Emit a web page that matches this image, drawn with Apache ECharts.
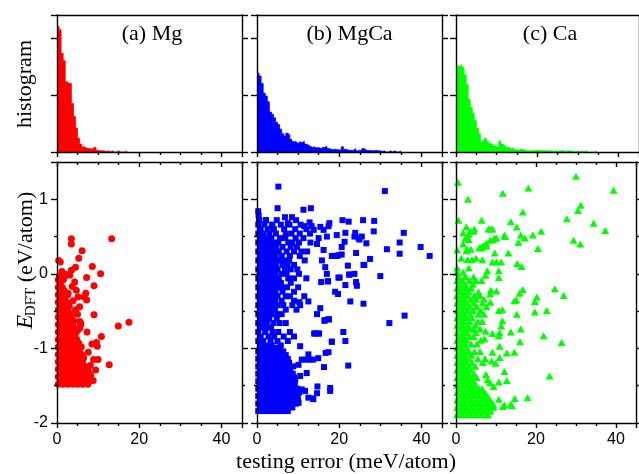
<!DOCTYPE html>
<html><head><meta charset="utf-8">
<script src="https://cdn.jsdelivr.net/npm/echarts@6/dist/echarts.min.js"></script>
<style>html,body{margin:0;padding:0;background:#fff}#c{width:639px;height:474px}</style>
</head><body><div id="c"></div>
<script>
// ---------------- DATA ----------------
const panelTitles = ['(a) Mg', '(b) MgCa', '(c) Ca'];
const xTitle = 'testing error (meV/atom)';
const histTitle = 'histogram';
const xTickLabels = [0, 20, 40];
const yTickLabels = [-2, -1, 0, 1];
const binWidth = 0.5; // meV

// histogram counts, one per 0.5 meV bin starting at 0
const mgCounts = [220,214,173,160,123,120,120,85,62,42,24,14,9,8,6,6,5,8,8,3,2,2,2,1,2,0,2,0,0,2,0,0,0,2];
const mgcaCounts = [138,133,120,103,98,88,70,66,60,52,48,40,32,28,33,30,22,18,18,15,18,16,19,14,12,10,8,9,7,8,6,8,8,10,6,5,4,5,4,4,3,9,5,4,3,3,3,6,2,3,2,6,4,2,3,2,2,3,2,2,1,2,0,0,2,0,2,0,0,2];
const caCounts = [151,150,153,148,135,118,92,78,68,55,42,32,16,20,24,19,15,13,11,9,8,19,14,11,8,8,6,7,4,4,3,5,5,3,2,2,2,2,3,3,3,3,2,3,2,2,2,1,2,1,2,2,2,1,2,2,1,1,0,2,0,2,0,2,0,0,0,0,2];

// scatter: [testing error (meV/atom), E_DFT (eV/atom)]
// dense bands are written as [E_DFT, err1, err2, ...]
const mgRows = [
 [-1.48,0.3,1.5,2.7,3.9,5.1,6.3,7.5],
 [-1.43,0.9,2.1,3.3,4.5,5.7,6.9,8.1,8.8],
 [-1.38,0.3,1.5,2.7,3.9,5.1,6.3,7.3],
 [-1.33,0.9,2.1,3.3,4.5,5.7,6.9,7.6],
 [-1.28,0.3,1.5,2.7,3.9,5.1,6.3,7.0],
 [-1.23,0.9,2.1,3.3,4.5,5.7,6.6],
 [-1.18,0.3,1.5,2.7,3.9,5.1,6.2],
 [-1.13,0.9,2.1,3.3,4.5,5.7,6.5],
 [-1.08,0.3,1.5,2.7,3.9,5.1,6.0],
 [-1.03,0.9,2.1,3.3,4.5,5.4],
 [-0.98,0.3,1.5,2.7,3.9,5.0,5.9],
 [-0.93,0.9,2.1,3.3,4.5,5.3],
 [-0.88,0.3,1.5,2.7,3.9,4.8],
 [-0.83,0.9,2.1,3.3,4.4],
 [-0.78,0.3,1.5,2.7,3.9,4.7],
 [-0.73,0.9,2.1,3.3,4.2],
 [-0.68,0.3,1.5,2.7,3.8],
 [-0.63,0.9,2.1,3.3,4.0],
 [-0.58,0.3,1.5,2.7,3.5],
 [-0.53,0.9,2.1,3.2],
 [-0.48,0.3,1.5,2.6],
 [-0.43,0.9,2.0,3.0],
 [-0.38,0.3,1.4,2.4],
 [-0.33,0.9,1.9],
 [-0.28,0.3,1.4,2.6],
 [-0.23,0.8,1.8],
 [-0.18,0.3,1.3],
 [-0.13,0.8],
 [-0.08,0.3,1.5],
 [-0.03,0.6]
];
const mgPoints = [
 [3.5,0.47],[3.5,0.40],[13.3,0.47],[6.1,0.31],[5.3,0.21],[0.4,0.18],[0.8,0.16],[4.5,0.09],[8.6,0.10],
 [10.6,0.0],[3.5,0.05],[7.2,-0.05],[9.0,-0.16],[7.0,-0.26],[7.2,-0.35],[6.6,-0.31],[9.0,-0.55],
 [14.9,-0.70],[17.5,-0.65],[5.5,-0.64],[5.8,-0.66],[7.3,-0.78],[10.8,-0.84],[5.5,-0.73],[8.5,-0.94],
 [9.6,-0.92],[9.8,-0.97],[7.6,-1.05],[8.9,-1.15],[10.0,-1.15],[12.7,-1.22],[9.4,-1.29],[8.1,-1.23],
 [7.6,-1.31],[8.2,-1.36],
 [1.2,0.03],[2.3,-0.01],[3.1,-0.02],[1.7,-0.06],[4.3,-0.11],[3.7,-0.17],[4.7,-0.22],[2.7,-0.26],
 [5.1,-0.31],[3.9,-0.36],[5.5,-0.44],[4.5,-0.48],[5.0,-0.54],[3.3,-0.57],[5.8,-0.68],[5.1,-0.75]
];

const mgcaRows = [
 [-1.84,0.3,1.5,2.7,3.9,5.1,6.3,7.5],
 [-1.79,0.9,2.1,3.3,4.5,5.7,6.9,8.1,8.6],
 [-1.74,0.3,1.5,2.7,3.9,5.1,6.3,7.5,8.7,9.5],
 [-1.69,0.9,2.1,3.3,4.5,5.7,6.9,8.1,9.3,10.0],
 [-1.64,0.3,1.5,2.7,3.9,5.1,6.3,7.5,8.7,9.9],
 [-1.59,0.9,2.1,3.3,4.5,5.7,6.9,8.1,9.3,10.3],
 [-1.54,0.3,1.5,2.7,3.9,5.1,6.3,7.5,8.7,9.8],
 [-1.49,0.9,2.1,3.3,4.5,5.7,6.9,8.1,9.2],
 [-1.44,0.3,1.5,2.7,3.9,5.1,6.3,7.5,8.7],
 [-1.39,0.9,2.1,3.3,4.5,5.7,6.9,8.1,9.0],
 [-1.34,0.3,1.5,2.7,3.9,5.1,6.3,7.5,8.7],
 [-1.29,0.9,2.1,3.3,4.5,5.7,6.9,8.1],
 [-1.24,0.3,1.5,2.7,3.9,5.1,6.3,7.5,8.8],
 [-1.19,0.9,2.1,3.3,4.5,5.7,6.9,7.8],
 [-1.14,0.3,1.5,2.7,3.9,5.1,6.3,7.5],
 [-1.09,0.9,2.1,3.3,4.5,5.7,7.0],
 [-1.04,0.3,1.5,2.7,3.9,5.1,6.4],
 [-0.99,0.9,2.1,3.3,4.5,5.5],
 [-0.96,0.9,2.2,3.6,5.8],
 [-0.90,0.3,1.5,3.3,5.0,7.5],
 [-0.84,0.9,2.8,4.2,6.5,9.0],
 [-0.78,0.3,2.0,3.8,5.2,8.0],
 [-0.72,0.9,2.2,3.4],
 [-0.66,0.3,1.5,2.4,4.0,5.5,7.0],
 [-0.60,0.9,2.1,3.0,4.8],
 [-0.54,0.3,1.5,2.7,3.6,5.0,6.0],
 [-0.48,0.9,2.1,3.2,4.4,7.0,9.6],
 [-0.42,0.3,1.5,2.7,3.8,5.0,6.4,8.6,10.5],
 [-0.36,0.9,2.1,3.3,4.4,6.0,9.0],
 [-0.30,0.3,1.5,2.7,3.9,5.0,7.0,8.0,11.5],
 [-0.24,0.9,2.1,3.3,4.5,6.2,9.0],
 [-0.18,0.3,1.5,2.7,3.9,4.8,6.0,7.3,10.0],
 [-0.12,0.9,2.1,3.3,4.6,5.8,8.2],
 [-0.06,0.3,1.5,2.7,3.9,5.3,7.6,9.0,12.0],
 [0.00,0.9,2.1,3.3,4.5,6.0,7.2,10.2],
 [0.06,0.3,1.5,2.7,3.9,5.0,6.8,8.2,9.8],
 [0.12,0.9,2.1,3.3,4.6,6.2,7.4,9.0],
 [0.18,0.3,1.5,2.7,3.9,5.2,6.6,7.8,11.6],
 [0.24,0.9,2.1,3.3,4.5,6.0,8.0,10.4],
 [0.30,0.3,1.5,2.7,3.9,5.3,7.2,9.0,10.8,12.2],
 [0.36,0.9,2.1,3.4,4.6,6.2,8.2,9.7],
 [0.42,0.3,1.5,2.8,4.0,5.2,7.6,8.6,10.2,13.0],
 [0.48,0.9,2.2,3.5,5.6,6.9,9.4,11.3],
 [0.54,0.3,1.5,3.0,4.6,7.0,8.4,10.4,12.9],
 [0.60,0.9,2.6,4.1,6.6,9.3,12.0],
 [0.66,0.3,1.8,3.7,5.8,7.9,10.6],
 [0.72,0.5,2.2,4.8,9.5],
 [0.78,0.4],
 [0.84,0.3]
];
const mgcaPoints = [
 [5.2,1.17],[31.1,1.11],[5.0,0.88],[11.3,0.86],[13.1,0.88],[2.1,0.72],[6.8,0.76],[8.5,0.76],[3.7,0.64],
 [7.5,0.68],[12.8,0.69],[17.6,0.68],[20.8,0.72],[22.3,0.70],[25.8,0.72],[28.5,0.71],[17.4,0.64],
 [19.4,0.52],[21.5,0.55],[23.9,0.55],[28.4,0.57],[35.7,0.55],[24.9,0.46],[26.6,0.41],[34.7,0.42],
 [31.6,0.33],[34.7,0.27],[39.8,0.36],[42.0,0.24],[19.4,0.24],[20.6,0.26],[27.5,0.20],[26.1,0.12],
 [22.1,0.11],[23.7,0.0],[22.4,-0.01],[30.0,-0.03],[20.1,-0.05],[17.3,-0.10],[24.1,-0.11],[24.3,-0.16],
 [19.0,-0.24],[19.7,-0.27],[22.7,-0.37],[25.9,-0.40],[35.9,-0.56],[32.2,-0.66],[16.5,-0.62],[17.5,-0.61],
 [15.1,-0.80],[13.9,-0.80],[21.0,-0.78],[21.5,-0.90],[18.2,-0.91],[16.7,-1.06],[17.4,-1.05],[22.2,-1.23],
 [16.3,-1.25],[17.8,-1.53],[17.8,-1.57],[14.7,-1.51],[13.6,-1.67],[12.9,-1.15],[12.0,-1.15],[14.9,-1.13],
 [10.5,-0.97],[13.3,0.64],[11.5,0.64],[13.8,0.59],[15.4,0.63],[16.2,0.59],[17.0,0.50],[21.3,0.43],
 [23.7,0.50],[24.7,0.48],[25.5,0.50],[20.6,0.36],[24.1,0.28],[25.9,0.12],[19.8,-0.05],[22.5,-0.01],
 [21.5,-0.15],[17.2,-0.10],
 [10.9,-1.15],[12.5,-1.08],[13.7,-1.15],[10.1,-1.22],[12.1,-1.33],[10.5,-1.37],[9.3,-1.42],[10.9,-1.55],
 [11.7,-1.57],[13.7,-1.68],[12.5,-1.66],[10.1,-1.73],[8.9,-1.60],[14.6,-1.60],[14.1,-0.80],[14.9,-0.80],
 [17.4,-0.61],[18.2,-0.91],[16.4,-0.63],[14.6,-0.54],[15.4,-0.46],[12.5,-0.37],[10.3,-0.38],[15.6,-0.11],
 [17.0,0.0],[16.6,0.09],[15.8,0.18],[18.2,0.24],[19.8,0.25],[16.2,0.32],[14.6,0.40],[15.0,0.48]
];

const caRows = [
 [-1.89,0.3,1.5,2.7,3.9,5.1,6.3,7.5],
 [-1.84,0.9,2.1,3.3,4.5,5.7,6.9,8.1,8.6],
 [-1.79,0.3,1.5,2.7,3.9,5.1,6.3,7.5,8.7,9.4],
 [-1.74,0.9,2.1,3.3,4.5,5.7,6.9,8.1,9.0],
 [-1.69,0.3,1.5,2.7,3.9,5.1,6.3,7.5,8.5],
 [-1.64,0.9,2.1,3.3,4.5,5.7,6.9,7.9],
 [-1.59,0.3,1.5,2.7,3.9,5.1,6.3,7.2],
 [-1.54,0.9,2.1,3.3,4.5,5.7,6.5],
 [-1.49,0.3,1.5,2.7,3.9,4.9],
 [-1.44,0.9,2.1,3.3,4.4],
 [-1.39,0.3,1.5,2.7,3.8,5.2],
 [-1.34,0.9,2.1,3.2,4.5],
 [-1.29,0.3,1.5,2.6,3.6],
 [-1.24,0.9,2.0,3.2,4.8],
 [-1.19,0.3,1.4,2.6,4.0],
 [-1.14,0.9,2.1,3.3,5.5],
 [-1.09,0.3,1.5,2.4,3.8],
 [-1.04,0.9,2.0,3.2,4.6,6.0],
 [-0.99,0.3,1.4,2.7],
 [-0.94,0.9,2.2,3.8,5.2],
 [-0.89,0.3,1.5,2.7,6.2],
 [-0.84,0.9,2.0,3.4,4.4],
 [-0.79,0.3,1.6,2.8,5.0],
 [-0.74,0.9,2.3,3.6,4.4,6.0],
 [-0.69,0.3,1.5,2.9,4.8],
 [-0.64,0.9,2.0,3.4,5.4,6.6],
 [-0.59,0.3,1.4,2.6,4.0],
 [-0.54,0.9,2.2,3.6,5.6,7.0],
 [-0.49,0.3,1.5,2.8,4.2,6.2],
 [-0.44,0.9,2.0,3.4,5.2,7.6],
 [-0.39,0.3,1.4,2.6,4.4,6.6],
 [-0.34,0.9,2.2,3.6,5.0,7.0],
 [-0.29,0.3,1.5,2.8,4.6,6.0],
 [-0.24,0.9,2.0,3.2,5.6],
 [-0.19,0.3,1.4,2.6,3.8],
 [-0.14,0.9,2.3,4.2],
 [-0.09,0.3,1.5,3.4,5.0,6.4],
 [-0.04,0.6,2.4,4.4],
 [0.02,0.3,1.8],
 [0.08,0.3,3.2]
];
const caPoints = [
 [0.5,1.23],[30.0,1.31],[39.4,1.12],[11.7,1.08],[18.1,1.15],[3.0,1.0],[16.7,0.83],[31.2,0.92],[30.5,0.85],
 [27.7,0.74],[34.4,0.68],[37.3,0.58],[0.6,0.72],[6.4,0.72],[13.7,0.70],[15.2,0.63],[21.3,0.57],[19.2,0.52],
 [16.2,0.52],[17.2,0.48],[29.4,0.45],[31.1,0.40],[20.5,0.34],[12.1,0.52],[12.3,0.50],[15.6,0.42],[13.1,0.28],
 [15.3,0.14],[16.4,0.10],[24.7,-0.20],[26.9,-0.29],[22.7,-0.49],[21.9,-0.83],[26.4,-0.92],[23.4,-1.37],
 [17.9,-1.66],[14.7,-1.67],[16.7,-0.21],[15.9,-0.26],[20.2,-0.31],[19.7,-0.37],[19.7,-0.51],[15.1,-0.35],
 [14.6,-0.36],[15.2,-0.54],[13.7,-0.78],[16.2,-0.74],[16.0,-0.91],[14.6,-1.05],[12.7,-1.06],[12.1,-1.31],
 [12.7,-1.43],[10.7,-1.45],[9.4,-1.51],[13.7,-1.75],[14.0,-1.77],[11.7,-1.78],[12.1,-1.76],[8.0,-1.89],
 [10.7,-1.68],[9.3,-1.75],[11.3,0.16],[10.1,0.16],[9.1,0.16],[10.7,0.04],[10.7,-0.05],[7.8,0.04],[7.4,-0.02],
 [8.7,-0.22],[10.1,-0.23],[8.5,-0.27],[8.6,-0.38],[10.7,-0.49],[11.6,-0.48],[11.6,-0.63],[11.3,-0.70],
 [10.9,-0.79],[10.7,-0.83],[9.1,-0.80],[7.4,-0.77],[7.1,-0.87],[10.9,-0.97],[9.1,-1.05],[10.9,-1.12],
 [8.9,-1.17],[7.3,-1.14],[7.5,-1.35],[7.9,-1.42],[8.5,-1.46],[6.7,-1.19],[9.9,-1.20],
 [2.6,0.63],[1.8,0.55],[3.2,0.53],[4.6,0.60],[4.4,0.57],[3.2,0.46],[1.8,0.40],[2.8,0.33],[1.3,0.21],
 [2.9,0.19],[4.0,0.19],[5.0,0.21],[6.6,0.19],[2.6,0.31],[3.7,0.33],[5.8,0.35],[6.8,0.38],[7.6,0.41],
 [8.5,0.45],[9.3,0.46],[9.7,0.48],[10.1,0.48],[8.1,0.60],[8.7,0.60],[9.1,0.60],[6.0,0.35],[7.6,0.37],
 [9.7,0.28],[6.4,0.35],[0.3,0.32],[2.4,0.48],[3.6,0.57]
];

// ---------------- BUILD ----------------
function rowsToPoints(rows) {
  const out = [];
  rows.forEach(r => { for (let k = 1; k < r.length; k++) out.push([r[k], r[0]]); });
  return out;
}
// step outline: each bin holds its count from its left edge to the next edge
function histSteps(counts) {
  const pts = counts.map((c, i) => [i * binWidth, c]);
  pts.push([counts.length * binWidth, 0]);
  return pts;
}

const colors = ['#ff0000', '#0000ff', '#00ff00'];
const lefts = [57, 257, 456];
const widths = [185, 185, 184];
const grids = [];
for (let c = 0; c < 3; c++) grids.push({left: lefts[c], top: 15, width: widths[c], height: 137});
for (let c = 0; c < 3; c++) grids.push({left: lefts[c], top: 162, width: widths[c], height: 261});

const black = '#000';
const lineW = 1.4;
const xAxes = [], yAxes = [];
function addX(g, pos, tickShow, inside, labelShow) {
  xAxes.push({
    type: 'value', gridIndex: g, position: pos, min: 0, max: 45, interval: 20, z: 5,
    axisLine: {show: true, onZero: false, lineStyle: {color: black, width: lineW}},
    axisTick: {show: tickShow, inside: inside, length: 5, lineStyle: {color: black, width: lineW}},
    minorTick: {show: tickShow, splitNumber: 4, length: 3, lineStyle: {color: black, width: lineW}},
    axisLabel: {show: labelShow, margin: 9, fontFamily: 'Liberation Sans, Arial', fontSize: 16, color: black,
      formatter: v => xTickLabels.indexOf(v) >= 0 ? String(v) : ''},
    splitLine: {show: false}, minorSplitLine: {show: false}
  });
  return xAxes.length - 1;
}
function addY(g, pos, isHist, labelShow) {
  yAxes.push({
    type: 'value', gridIndex: g, position: pos, z: 5,
    min: isHist ? 0 : -2, max: isHist ? 240 : 1.5, interval: isHist ? 100 : 1,
    axisLine: {show: true, onZero: false, lineStyle: {color: black, width: lineW}},
    axisTick: {show: true, inside: false, length: 6, lineStyle: {color: black, width: lineW}},
    minorTick: {show: !isHist, splitNumber: 2, length: 3, lineStyle: {color: black, width: lineW}},
    axisLabel: {show: labelShow, margin: 9, fontFamily: 'Liberation Sans, Arial', fontSize: 16, color: black,
      showMaxLabel: false,
      formatter: v => yTickLabels.indexOf(v) >= 0 ? String(v) : ''},
    splitLine: {show: false}, minorSplitLine: {show: false}
  });
  return yAxes.length - 1;
}

const histCounts = [mgCounts, mgcaCounts, caCounts];
const scatterData = [
  rowsToPoints(mgRows).concat(mgPoints),
  rowsToPoints(mgcaRows).concat(mgcaPoints),
  rowsToPoints(caRows).concat(caPoints)
];
const symbols = [
  {symbol: 'circle', size: 7},
  {symbol: 'rect', size: 6},
  {symbol: 'triangle', size: [8, 7]}
];

const series = [];
for (let c = 0; c < 3; c++) {
  const hx = addX(c, 'bottom', true, false, false);
  addX(c, 'top', false, true, false);
  const hy = addY(c, 'left', true, false);
  addY(c, 'right', true, false);
  series.push({
    type: 'line', xAxisIndex: hx, yAxisIndex: hy, data: histSteps(histCounts[c]),
    step: 'end', showSymbol: false, symbol: 'none',
    lineStyle: {width: 0.8, color: colors[c]},
    areaStyle: {color: colors[c], opacity: 1, origin: 'start'},
    emphasis: {disabled: true}
  });
}
for (let c = 0; c < 3; c++) {
  const g = 3 + c;
  const sx = addX(g, 'bottom', true, false, true);
  addX(g, 'top', true, true, false);
  const sy = addY(g, 'left', false, c === 0);
  addY(g, 'right', false, false);
  series.push({
    type: 'scatter', xAxisIndex: sx, yAxisIndex: sy, data: scatterData[c],
    symbol: symbols[c].symbol, symbolSize: symbols[c].size,
    itemStyle: {color: colors[c], opacity: 1}, emphasis: {disabled: true}
  });
}

const serif = 'Liberation Serif, Times New Roman, serif';
const graphic = [];
const titleX = [152, 349.5, 550];
for (let c = 0; c < 3; c++) {
  graphic.push({type: 'text', x: titleX[c], y: 34, style: {text: panelTitles[c], font: '22px ' + serif,
    fill: black, align: 'center', verticalAlign: 'middle'}});
}
graphic.push({type: 'text', x: 25, y: 84, rotation: Math.PI / 2, style: {text: histTitle,
  font: '22px ' + serif, fill: black, align: 'center', verticalAlign: 'middle'}});
graphic.push({type: 'text', x: 346, y: 462, style: {text: xTitle, font: '22px ' + serif,
  fill: black, align: 'center', verticalAlign: 'middle'}});
graphic.push({type: 'text', x: 26, y: 322, rotation: Math.PI / 2, style: {text: 'E',
  font: 'italic 23px ' + serif, fill: black, align: 'center', verticalAlign: 'middle'}});
graphic.push({type: 'text', x: 31, y: 302, rotation: Math.PI / 2, style: {text: 'DFT',
  font: '15px ' + serif, fill: black, align: 'center', verticalAlign: 'middle'}});
graphic.push({type: 'text', x: 26, y: 237, rotation: Math.PI / 2, style: {text: '(eV/atom)',
  font: '22px ' + serif, fill: black, align: 'center', verticalAlign: 'middle'}});

const chart = echarts.init(document.getElementById('c'), null, {renderer: 'canvas'});
chart.setOption({
  animation: false, backgroundColor: '#fff',
  grid: grids, xAxis: xAxes, yAxis: yAxes, series: series, graphic: graphic
});
</script></body></html>
